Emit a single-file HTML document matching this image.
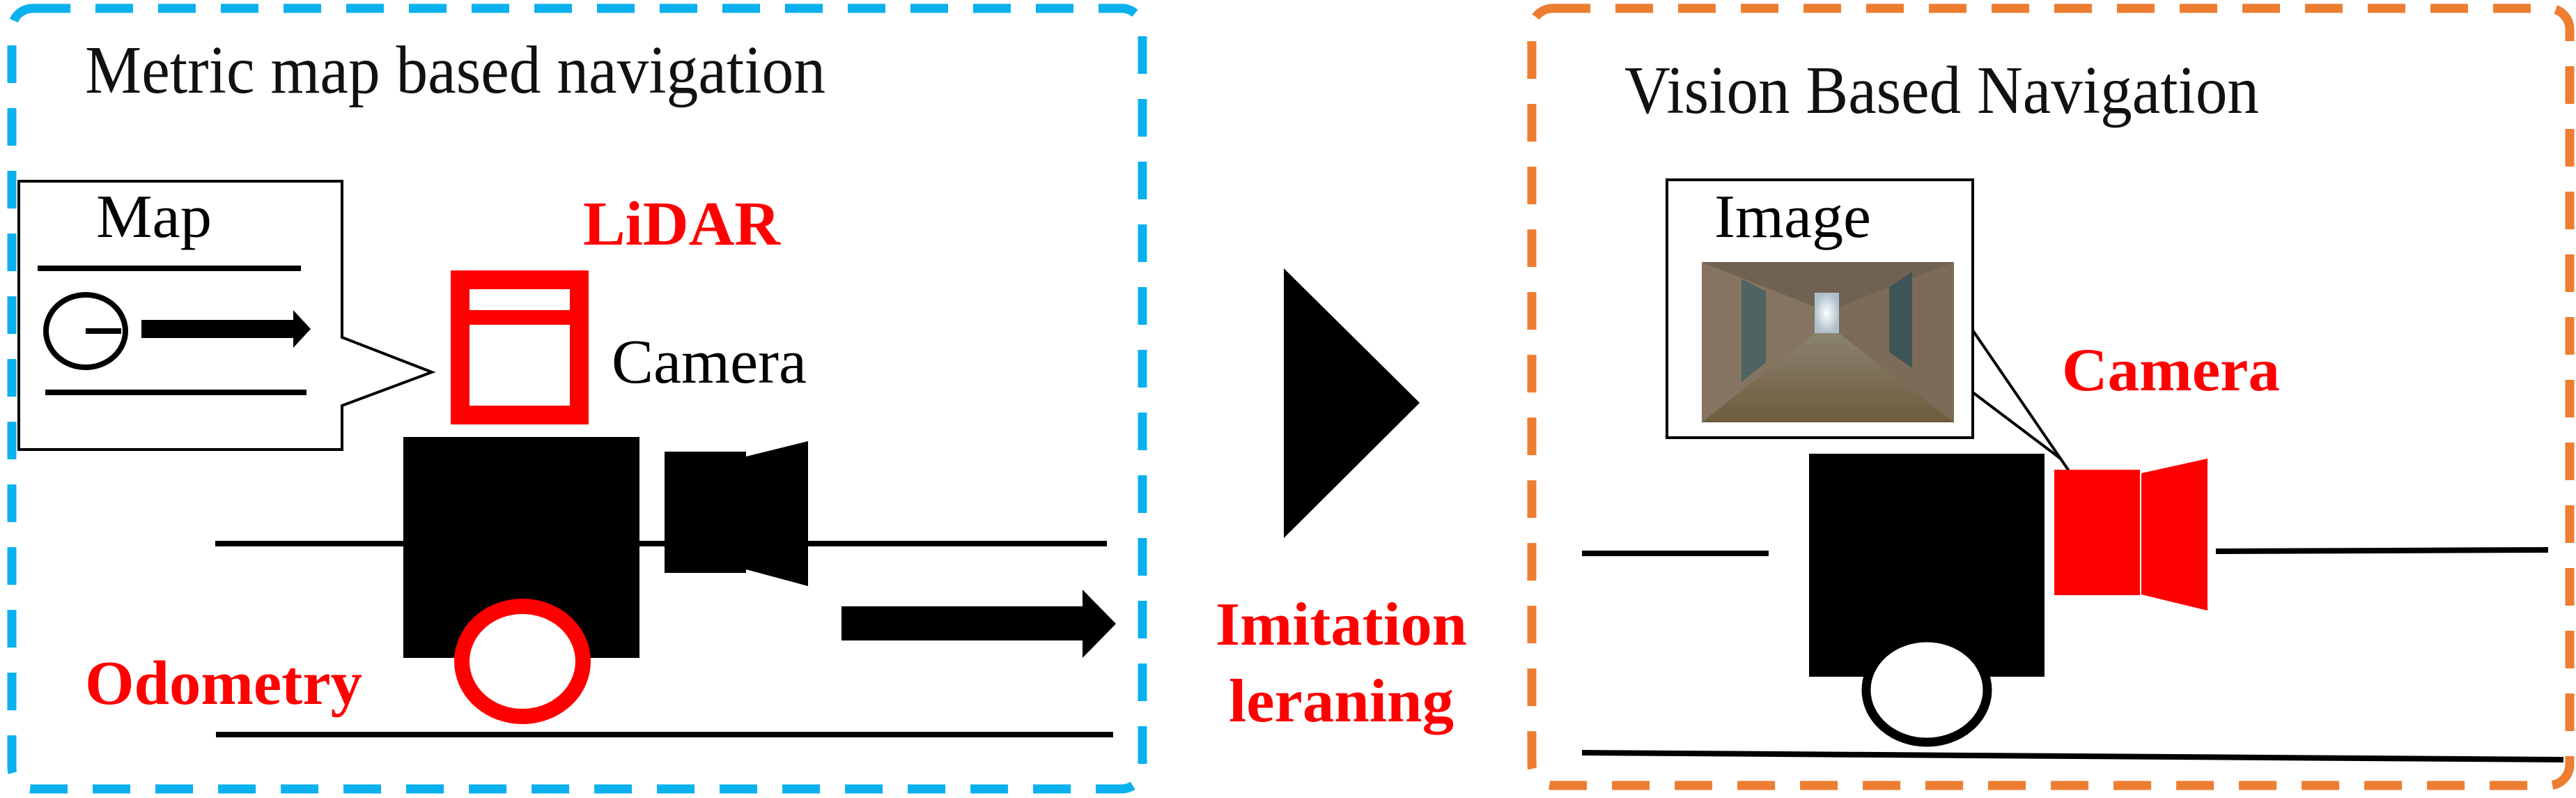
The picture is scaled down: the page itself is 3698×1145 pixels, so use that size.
<!DOCTYPE html>
<html><head><meta charset="utf-8"><style>html,body{margin:0;padding:0;background:#fff}svg{display:block}</style></head>
<body>
<svg width="3698" height="1145" viewBox="0 0 3698 1145" xmlns="http://www.w3.org/2000/svg">
<defs>
<linearGradient id="fl" x1="0" y1="0" x2="0" y2="1"><stop offset="0" stop-color="#8a8270"/><stop offset="1" stop-color="#6e5c3c"/></linearGradient>
<radialGradient id="lt" cx="0.5" cy="0.5" r="0.5"><stop offset="0" stop-color="#ffffff"/><stop offset="1" stop-color="#aebfcc"/></radialGradient>
</defs>
<rect x="17" y="12" width="1623" height="1120" rx="30" fill="none" stroke="#0BB0EE" stroke-width="13" stroke-dasharray="54 36"/>
<text x="122" y="133" font-family="Liberation Serif, serif" font-size="97" textLength="1063" lengthAdjust="spacingAndGlyphs" fill="#111">Metric map based navigation</text>
<path d="M27 260 H491 V484 L620 534 L491 582 V645 H27 Z" fill="#fff" stroke="#000" stroke-width="4"/>
<text x="138" y="340" font-family="Liberation Serif, serif" font-size="88" textLength="166" lengthAdjust="spacingAndGlyphs">Map</text>
<rect x="54" y="381" width="378" height="8"/>
<rect x="65" y="559" width="375" height="8"/>
<ellipse cx="123" cy="475" rx="57" ry="52" fill="none" stroke="#000" stroke-width="8"/>
<rect x="123" y="471" width="51" height="8"/>
<path d="M203 459 H421 V445 L446 472 L421 499 V485 H203 Z"/>
<text x="837" y="351" font-family="Liberation Serif, serif" font-weight="bold" font-size="90" textLength="283" lengthAdjust="spacingAndGlyphs" fill="#f00">LiDAR</text>
<rect x="660.5" y="401.5" width="171" height="194" fill="none" stroke="#f00" stroke-width="27"/>
<rect x="660" y="445" width="172" height="21" fill="#f00"/>
<text x="878" y="549" font-family="Liberation Serif, serif" font-size="90" textLength="280" lengthAdjust="spacingAndGlyphs">Camera</text>
<rect x="309" y="776" width="1280" height="8"/>
<rect x="579" y="627" width="339" height="317"/>
<rect x="954" y="648" width="117" height="174"/>
<path d="M1071 655 L1160 633 V841 L1071 817 Z"/>
<ellipse cx="750" cy="949" rx="87" ry="79" fill="#fff" stroke="#f00" stroke-width="22"/>
<text x="122" y="1010" font-family="Liberation Serif, serif" font-weight="bold" font-size="90" textLength="398" lengthAdjust="spacingAndGlyphs" fill="#f00">Odometry</text>
<path d="M1208 870 H1554 V846 L1602 895 L1554 944 V919 H1208 Z"/>
<rect x="310" y="1050" width="1288" height="8"/>
<path d="M1843 385 L2038 578 L1843 772 Z"/>
<text x="1745" y="925" font-family="Liberation Serif, serif" font-weight="bold" font-size="88" textLength="361" lengthAdjust="spacingAndGlyphs" fill="#f00">Imitation</text>
<text x="1764" y="1035" font-family="Liberation Serif, serif" font-weight="bold" font-size="88" textLength="323" lengthAdjust="spacingAndGlyphs" fill="#f00">leraning</text>
<rect x="2199" y="12" width="1490" height="1115" rx="30" fill="none" stroke="#ED7D31" stroke-width="13" stroke-dasharray="54 36"/>
<text x="2332" y="162" font-family="Liberation Serif, serif" font-size="97" textLength="911" lengthAdjust="spacingAndGlyphs" fill="#111">Vision Based Navigation</text>
<path d="M2393 258 H2832 V628 H2393 Z" fill="#fff" stroke="#000" stroke-width="4"/>
<text x="2461" y="340" font-family="Liberation Serif, serif" font-size="88" textLength="225" lengthAdjust="spacingAndGlyphs">Image</text>
<g>
<rect x="2443" y="376" width="362" height="230" fill="#6f6250"/>
<path d="M2443 376 L2605 440 L2605 478 L2443 606 Z" fill="#857461"/>
<path d="M2805 376 L2640 440 L2640 478 L2805 606 Z" fill="#7b6b58"/>
<path d="M2443 606 L2605 478 L2640 478 L2805 606 Z" fill="url(#fl)"/>
<rect x="2605" y="420" width="35" height="58" fill="url(#lt)"/>
<path d="M2500 400 L2535 418 L2535 520 L2500 548 Z" fill="#4d6462"/>
<path d="M2745 390 L2712 412 L2712 505 L2745 528 Z" fill="#3f5456"/>
</g>
<path d="M2832 474 L2971 677 M2832 563 L2958 658" stroke="#000" stroke-width="4" fill="none"/>
<text x="2960" y="560" font-family="Liberation Serif, serif" font-weight="bold" font-size="88" textLength="313" lengthAdjust="spacingAndGlyphs" fill="#f00">Camera</text>
<rect x="2271" y="790" width="268" height="8"/>
<path d="M3181 787 L3658 785 L3658 793 L3181 795 Z"/>
<path d="M2271 1076 L3680 1086 L3680 1094 L2271 1084 Z"/>
<rect x="2597" y="651" width="338" height="320"/>
<rect x="2949" y="674" width="123" height="180" fill="#f00"/>
<path d="M3074 679 L3169 658 V876 L3074 853 Z" fill="#f00"/>
<ellipse cx="2766" cy="990" rx="87" ry="75" fill="#fff" stroke="#000" stroke-width="13"/>
</svg>
</body></html>
